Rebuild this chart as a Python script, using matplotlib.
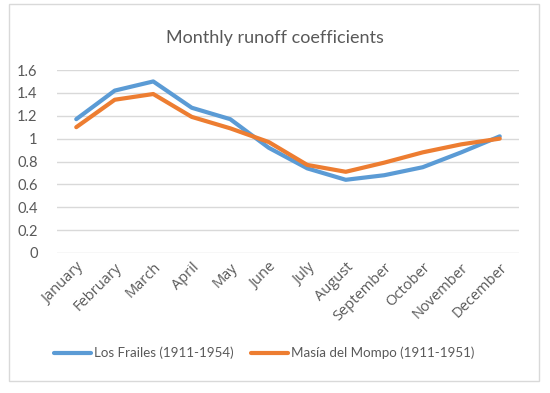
import matplotlib.pyplot as plt
from matplotlib.patches import Rectangle

# Monthly runoff coefficients
months = ['January', 'February', 'March', 'April', 'May', 'June', 'July',
          'August', 'September', 'October', 'November', 'December']
los_frailes = [1.17, 1.42, 1.50, 1.27, 1.17, 0.92, 0.74, 0.64, 0.68, 0.75, 0.88, 1.02]
masia_mompo = [1.10, 1.34, 1.39, 1.19, 1.09, 0.97, 0.77, 0.71, 0.79, 0.88, 0.95, 1.00]
y_ticks = [0, 0.2, 0.4, 0.6, 0.8, 1, 1.2, 1.4, 1.6]
y_labels = ['0', '0.2', '0.4', '0.6', '0.8', '1', '1.2', '1.4', '1.6']

plt.rcParams['font.family'] = ['Lato', 'DejaVu Sans']
grey = '#595959'

fig = plt.figure(figsize=(5.5, 3.93), dpi=100)
W, H = 550, 393
# plot area in pixels: left 57, right 519, top 70, bottom 253
ax = fig.add_axes([57 / W, 1 - 253 / H, (519 - 57) / W, (253 - 70) / H])

# chart frame
fig.patches.append(Rectangle((9 / W, 1 - 381 / H), (539 - 9) / W, (381 - 4) / H,
                             transform=fig.transFigure, fill=False,
                             edgecolor='#d9d9d9', linewidth=1))

x = list(range(len(months)))
ax.plot(x, los_frailes, color='#5B9BD5', linewidth=3, solid_capstyle='round',
        label='Los Frailes (1911-1954)')
ax.plot(x, masia_mompo, color='#ED7D31', linewidth=3, solid_capstyle='round',
        label='Masía del Mompo (1911-1951)')

ax.set_xlim(-0.5, len(months) - 0.5)
ax.set_ylim(0, 1.6)
ax.set_yticks(y_ticks)
ax.set_yticklabels(y_labels, fontsize=10.5)
ax.set_xticks(x)
ax.set_xticklabels(months, rotation=45, ha='right', rotation_mode='anchor',
                   family=['Open Sans', 'DejaVu Sans'], fontsize=10.5)
ax.tick_params(axis='both', length=0, colors=grey)
ax.tick_params(axis='y', pad=14)
ax.tick_params(axis='x', pad=5)
ax.grid(axis='y', color='#d9d9d9', linewidth=1)
ax.set_axisbelow(True)
for s in ax.spines.values():
    s.set_visible(False)

fig.text(275 / W, 1 - 38 / H, 'Monthly runoff coefficients', ha='center',
         va='center', fontsize=13, color=grey)

fig.legend(loc='center', bbox_to_anchor=(264 / W, 1 - 353 / H), ncol=2,
           frameon=False, fontsize=9.6, labelcolor=grey, handlelength=2.8,
           handletextpad=0.2, columnspacing=1.3)

fig.savefig('out.png', dpi=100)
